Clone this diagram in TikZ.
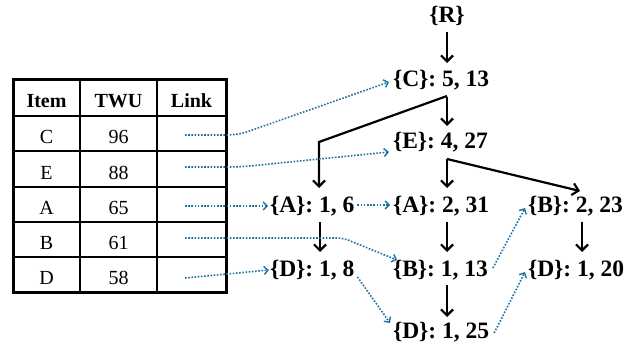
\documentclass[tikz,border=0pt]{standalone}
\usepackage{fontspec}
\setmainfont{Liberation Serif}
\usetikzlibrary{arrows.meta,calc}
\definecolor{linkblue}{RGB}{28,112,162}
\begin{document}
\begin{tikzpicture}[x=1pt,y=1pt,
  tnode/.style={inner sep=0pt, outer sep=0pt, anchor=base west, text height=15pt, text depth=5pt,
    font=\fontsize{23.5}{25}\selectfont\bfseries},
  cell/.style={inner sep=0pt, anchor=base, font=\fontsize{20}{22}\selectfont},
  hcell/.style={cell, font=\fontsize{20}{22}\selectfont\bfseries},
  tarrow/.style={line width=2.2pt, -{Straight Barb[length=6pt,width=12pt]}},
  link/.style={linkblue, line width=1.6pt, dash pattern=on 1.6pt off 1.6pt,
    -{Straight Barb[length=4pt,width=8pt,line width=1.4pt]}}]
\useasboundingbox (0,0) rectangle (642,-350);

% ---------- table ----------
\draw[line width=1.2pt] (80,-80) -- (80,-292) (157,-80) -- (157,-292);
\foreach \yy in {116,151,187,222,257} \draw[line width=1.2pt] (13,-\yy) -- (226,-\yy);
\draw[line width=3pt] (13,-80) rectangle (226,-292);

\node[hcell] (hI) at (46.5,-107.5) {Item};
\node[hcell] (hT) at (118.5,-107.5) {TWU};
\node[hcell] (hL) at (191.5,-107.5) {Link};
\node[cell] (iC) at (46.5,-143) {C};  \node[cell] (tC) at (118.5,-143) {96};
\node[cell] (iE) at (46.5,-179) {E};  \node[cell] (tE) at (118.5,-179) {88};
\node[cell] (iA) at (46.5,-214) {A};  \node[cell] (tA) at (118.5,-214) {65};
\node[cell] (iB) at (46.5,-249) {B};  \node[cell] (tB) at (118.5,-249) {61};
\node[cell] (iD) at (46.5,-284) {D};  \node[cell] (tD) at (118.5,-284) {58};

\coordinate (lC) at (185,-135);
\coordinate (lE) at (185,-167);
\coordinate (lA) at (185,-206);
\coordinate (lB) at (185,-238);
\coordinate (lD) at (185,-278);

% ---------- tree nodes ----------
\node[tnode, anchor=base] (R) at (447,-23) {\{R\}};
\node[tnode] (C)   at (393,-87)  {\{C\}: 5, 13};
\node[tnode] (E)   at (393,-148) {\{E\}: 4, 27};
\node[tnode] (A1)  at (270,-212) {\{A\}: 1, 6};
\node[tnode] (A2)  at (393,-212) {\{A\}: 2, 31};
\node[tnode] (B23) at (528,-212) {\{B\}: 2, 23};
\node[tnode] (D8)  at (270,-276) {\{D\}: 1, 8};
\node[tnode] (B13) at (393,-276) {\{B\}: 1, 13};
\node[tnode] (D20) at (528,-276) {\{D\}: 1, 20};
\node[tnode] (D25) at (393,-338) {\{D\}: 1, 25};

% ---------- tree edges ----------
\coordinate (k1) at (319,-142);
\draw[tarrow] ($(R.south)+(0,-4)$) -- ($(C.north -| R)+(0,9)$);
\draw[tarrow] ($(C.south -| R)+(0,-5)$) -- ($(E.north -| R)+(0,7)$);
\draw[tarrow] ($(C.south -| R)+(0,-4)$) -- (k1) -- ($(k1 |- A1.north)+(0,9)$);
\draw[tarrow] ($(E.south -| R)+(0,-6)$) -- ($(A2.north -| R)+(0,9)$);
\draw[tarrow] ($(E.south -| R)+(0,-6)$) -- ($(B23.north west)+(52,6)$);
\draw[tarrow] ($(A1.south west)+(50,-5)$) -- ($(D8.north west)+(50,9)$);
\draw[tarrow] ($(A2.south -| R)+(0,-5)$) -- ($(B13.north -| R)+(0,9)$);
\draw[tarrow] ($(B23.south west)+(54,-5)$) -- ($(D20.north west)+(54,9)$);
\draw[tarrow] ($(B13.south -| R)+(0,-4)$) -- ($(D25.north -| R)+(0,6)$);

% ---------- links ----------
\draw[link, rounded corners=10pt] (lC) -- (238,-135) -- ($(C.west)+(-4,0)$);
\draw[link, rounded corners=10pt] (lE) -- (240,-167) -- ($(E.west)+(-4,-9)$);
\draw[link] (lA) -- ($(A1.west)+(-2,1)$);
\draw[link, rounded corners=6pt] (lB) -- (343,-238) -- ($(B13.north west)+(4,1)$);
\draw[link] (lD) -- ($(D8.west)+(-1,1)$);
\draw[link] ($(A1.east)+(3,2)$) -- ($(A2.west)+(-3,2)$);
\draw[link] ($(D8.east)+(3,-6)$) -- ($(D25.north west)+(-3,0)$);
\draw[link] ($(B13.east)+(5,3)$) -- ($(B23.west)+(-3,-1)$);
\draw[link] ($(D25.east)+(5,0)$) -- ($(D20.west)+(-3,-1)$);
\end{tikzpicture}
\end{document}
